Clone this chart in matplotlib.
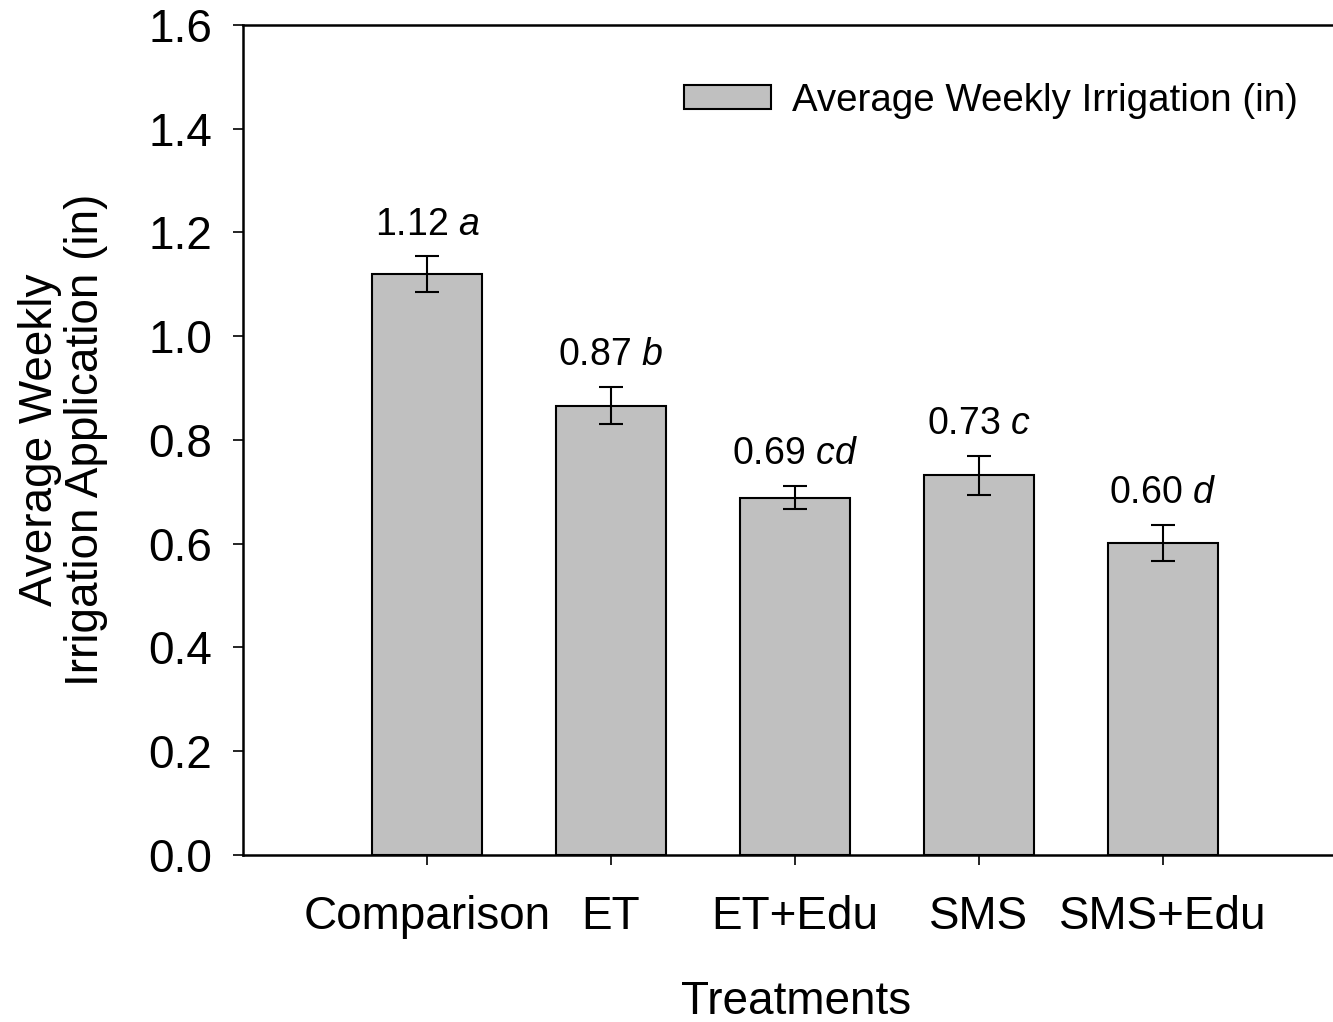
import numpy as np
import matplotlib
matplotlib.use('Agg')
import matplotlib.pyplot as plt
from matplotlib.ticker import MultipleLocator

plt.rcParams['font.family'] = ['Liberation Sans', 'DejaVu Sans']
plt.rcParams['mathtext.fontset'] = 'custom'
plt.rcParams['mathtext.rm'] = 'Liberation Sans'
plt.rcParams['mathtext.it'] = 'Liberation Sans:italic'

treatments = ['Comparison', 'ET', 'ET+Edu', 'SMS', 'SMS+Edu']
means = [1.12, 0.866, 0.689, 0.732, 0.602]
errors = [0.034, 0.036, 0.022, 0.038, 0.035]
value_text = ['1.12', '0.87', '0.69', '0.73', '0.60']
letters = ['a', 'b', 'cd', 'c', 'd']

font = 33
small_font = 27
bar_color = (0.753, 0.753, 0.753)

fig = plt.figure(figsize=(13.33, 10.22), dpi=100)
ax = fig.add_axes([243 / 1333, 1 - 855 / 1022, 1 - 243 / 1333, (855 - 25) / 1022])

x = np.arange(1, len(treatments) + 1)
ax.bar(x, means, width=0.6, color=bar_color, edgecolor='black', linewidth=1.5,
       label='Average Weekly Irrigation (in)', zorder=2)
ax.errorbar(x, means, yerr=errors, fmt='none', ecolor='black', elinewidth=1.5,
            capsize=8.3, capthick=1.5, zorder=3)

for xi, m, e, v, l in zip(x, means, errors, value_text, letters):
    ax.text(xi, m + e + 0.042, v + ' $\\it{' + l + '}$', ha='center', va='baseline',
            fontsize=small_font)

ax.set_xlim(0, 1090 / 184)
ax.set_ylim(0, 1.6)
ax.yaxis.set_major_locator(MultipleLocator(0.2))
ax.set_xticks(x)
ax.set_xticklabels(treatments)
ax.tick_params(axis='both', direction='out', length=7, width=1.2, labelsize=font, pad=15)
ax.tick_params(axis='x', pad=22)
ax.yaxis.set_major_formatter(plt.FuncFormatter(lambda v, p: '%.1f' % v))

ax.spines['right'].set_visible(False)
for s in ['left', 'bottom', 'top']:
    ax.spines[s].set_linewidth(1.8)

ax.set_xlabel('Treatments', fontsize=font)
ax.xaxis.set_label_coords(0.507, -0.1506)
ax.set_ylabel('Average Weekly\nIrrigation Application (in)', fontsize=font, linespacing=1.05)
ax.yaxis.set_label_coords(-0.124, 0.5)

leg = ax.legend(loc='center left', bbox_to_anchor=(0.4046, 0.909), frameon=False,
                fontsize=27.7, handlelength=2.26, handleheight=0.57, handletextpad=0.55,
                borderpad=0, borderaxespad=0)
for h in leg.legend_handles:
    h.set_linewidth(1.5)

plt.savefig('out.png', dpi=100)
